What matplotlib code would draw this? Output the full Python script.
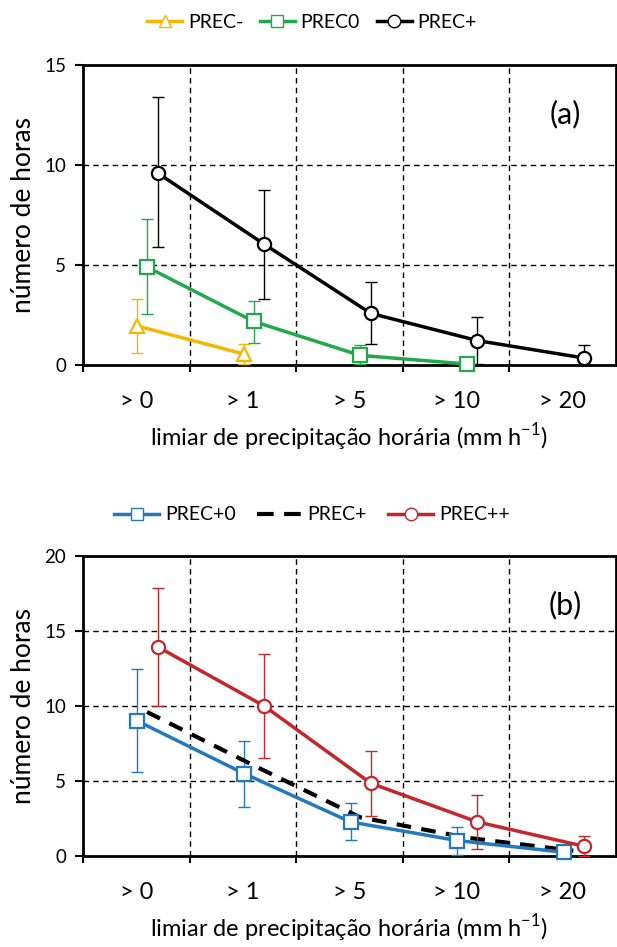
import numpy as np
import matplotlib.pyplot as plt
from matplotlib.lines import Line2D

plt.rcParams['font.family'] = ['Lato', 'DejaVu Sans']
plt.rcParams['mathtext.fontset'] = 'custom'
plt.rcParams['mathtext.rm'] = 'Lato'

# categorias (limiares)
cats = ['> 0', '> 1', '> 5', '> 10', '> 20']

# painel (a)
prec_minus = [1.95, 0.55]
prec_minus_hi = [3.3, 1.03]
prec_minus_lo = [0.62, 0.05]

prec_zero = [4.9, 2.18, 0.48, 0.05]
prec_zero_hi = [7.3, 3.22, 0.99, 0.1]
prec_zero_lo = [2.55, 1.12, 0.03, 0.0]

prec_plus = [9.6, 6.04, 2.58, 1.22, 0.35]
prec_plus_hi = [13.4, 8.74, 4.17, 2.42, 0.99]
prec_plus_lo = [5.88, 3.29, 1.06, 0.05, 0.0]

# painel (b)
prec_p0 = [9.0, 5.5, 2.27, 1.03, 0.25]
prec_p0_hi = [12.45, 7.7, 3.53, 1.96, 0.4]
prec_p0_lo = [5.63, 3.27, 1.1, 0.08, 0.0]

prec_pp = [13.95, 10.0, 4.85, 2.27, 0.65]
prec_pp_hi = [17.85, 13.5, 6.97, 4.06, 1.32]
prec_pp_lo = [10.0, 6.55, 2.7, 0.46, 0.02]

c_yel = '#F5B800'
c_grn = '#22A94B'
c_blk = '#000000'
c_blu = '#2279C0'
c_red = '#C3262B'

fig = plt.figure(figsize=(6.17, 9.47), dpi=100)
ax_a = fig.add_axes([83/617, 1 - 365/947, 533/617, 300/947])
ax_b = fig.add_axes([83/617, 1 - 856/947, 533/617, 300/947])


def serie(ax, vals, hi, lo, off, color, marker, ms):
    x = np.arange(len(vals)) + off
    v = np.array(vals)
    yerr = [v - np.array(lo), np.array(hi) - v]
    ax.errorbar(x, v, yerr=yerr, fmt='none', ecolor=color, elinewidth=1,
                capsize=4, capthick=1, zorder=3, clip_on=False)
    ax.plot(x, v, color=color, lw=2.5, marker=marker, ms=ms, mfc='white',
            mec=color, mew=1.6, zorder=4, clip_on=False)


def base(ax, ymax, label):
    ax.set_xlim(-0.5, 4.5)
    ax.set_ylim(0, ymax)
    ax.set_yticks(np.arange(0, ymax + 1, 5))
    ax.set_xticks(range(5))
    ax.set_xticklabels(cats, fontsize=17)
    ax.set_xticks([-0.5, 0.5, 1.5, 2.5, 3.5], minor=True)
    ax.tick_params(axis='x', which='major', length=0, pad=19)
    ax.tick_params(axis='x', which='minor', length=5, width=1.5, direction='out')
    ax.tick_params(axis='y', length=6, width=1.5, labelsize=13.5, pad=6)
    for s in ax.spines.values():
        s.set_linewidth(2)
    for xv in [0.5, 1.5, 2.5, 3.5]:
        ax.axvline(xv, color='black', lw=1, ls=(0, (4, 3)), zorder=1)
    for yv in np.arange(5, ymax, 5):
        ax.axhline(yv, color='black', lw=1, ls=(0, (4, 3)), zorder=1)
    ax.set_ylabel('número de horas', fontsize=19, labelpad=6)
    ax.set_xlabel('limiar de precipitação horária (mm h$^{\\mathregular{-1}}$)',
                  fontsize=17, labelpad=6)
    ax.text(0.905, 0.835, label, transform=ax.transAxes, fontsize=22,
            ha='center', va='center')


base(ax_a, 15, '(a)')
serie(ax_a, prec_minus, prec_minus_hi, prec_minus_lo, 0.01, c_yel, '^', 9.5)
serie(ax_a, prec_zero, prec_zero_hi, prec_zero_lo, 0.1, c_grn, 's', 9.5)
serie(ax_a, prec_plus, prec_plus_hi, prec_plus_lo, 0.2, c_blk, 'o', 9.5)

base(ax_b, 20, '(b)')
serie(ax_b, prec_p0, prec_p0_hi, prec_p0_lo, 0.01, c_blu, 's', 9.5)
ax_b.plot(np.arange(5) + 0.1, prec_plus, color='black', lw=3,
          ls=(0, (3.5, 2.5)), zorder=3)
serie(ax_b, prec_pp, prec_pp_hi, prec_pp_lo, 0.2, c_red, 'o', 9.5)

h_a = [Line2D([], [], color=c_yel, lw=2.5, marker='^', ms=9, mfc='white', mec=c_yel),
       Line2D([], [], color=c_grn, lw=2.5, marker='s', ms=9, mfc='white', mec=c_grn),
       Line2D([], [], color=c_blk, lw=2.5, marker='o', ms=9, mfc='white', mec=c_blk)]
fig.legend(h_a, ['PREC-', 'PREC0', 'PREC+'], loc='center',
           bbox_to_anchor=(312/617, 1 - 22/947), ncol=3, frameon=False,
           fontsize=14, handlelength=1.8, columnspacing=0.85, handletextpad=0.3)

h_b = [Line2D([], [], color=c_blu, lw=2.5, marker='s', ms=9, mfc='white', mec=c_blu),
       Line2D([], [], color='black', lw=3, ls=(0, (4, 2.5))),
       Line2D([], [], color=c_red, lw=2.5, marker='o', ms=9, mfc='white', mec=c_red)]
fig.legend(h_b, ['PREC+0', 'PREC+', 'PREC++'], loc='center',
           bbox_to_anchor=(312/617, 1 - 515/947), ncol=3, frameon=False,
           fontsize=14, handlelength=2.3, columnspacing=1.1, handletextpad=0.3)

fig.savefig('out.png', dpi=100)
